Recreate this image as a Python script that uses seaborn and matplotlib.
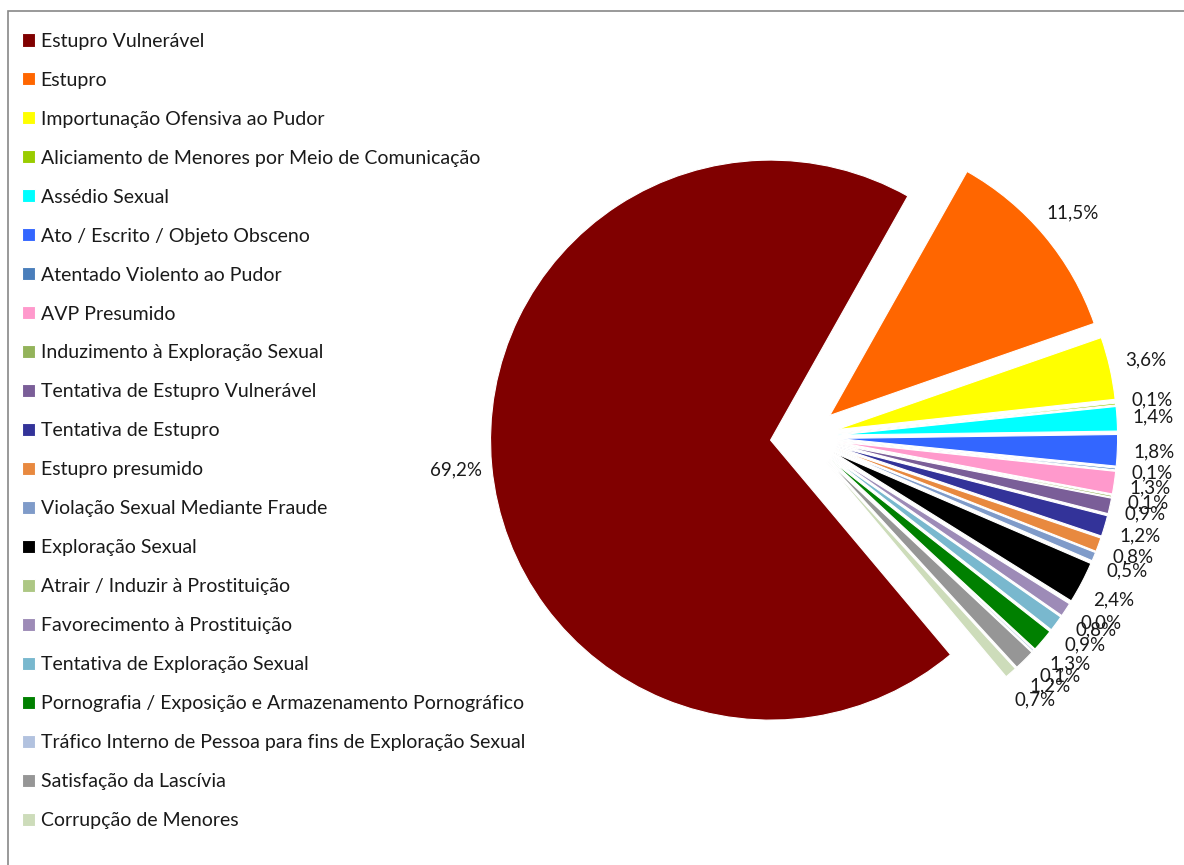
import matplotlib
matplotlib.use('Agg')
import matplotlib.pyplot as plt
import seaborn as sns
from matplotlib.patches import Rectangle

sns.set_theme(style='white')
plt.rcParams['font.family'] = ['Lato', 'DejaVu Sans']

# Dados
categorias = [
    'Estupro Vulnerável', 'Estupro', 'Importunação Ofensiva ao Pudor',
    'Aliciamento de Menores por Meio de Comunicação', 'Assédio Sexual',
    'Ato / Escrito / Objeto Obsceno', 'Atentado Violento ao Pudor', 'AVP Presumido',
    'Induzimento à Exploração Sexual', 'Tentativa de Estupro Vulnerável',
    'Tentativa de Estupro', 'Estupro presumido', 'Violação Sexual Mediante Fraude',
    'Exploração Sexual', 'Atrair / Induzir à Prostituição', 'Favorecimento à Prostituição',
    'Tentativa de Exploração Sexual', 'Pornografia / Exposição e Armazenamento Pornográfico',
    'Tráfico Interno de Pessoa para fins de Exploração Sexual', 'Satisfação da Lascívia',
    'Corrupção de Menores',
]
percentuais = [69.2, 11.5, 3.6, 0.1, 1.4, 1.8, 0.1, 1.3, 0.1, 0.9, 1.2,
               0.8, 0.5, 2.4, 0.0, 0.8, 0.9, 1.3, 0.1, 1.2, 0.7]
cores = ['#800000', '#FF6600', '#FFFF00', '#99CC00', '#00FFFF', '#3366FF', '#4A7EBB',
         '#FF99CC', '#93B35A', '#7A5E98', '#333399', '#E8893F', '#7F9BC9', '#000000',
         '#ADC784', '#9D8BB7', '#79B8CE', '#008000', '#B2C2DF', '#969696', '#CDDCBA']

W, H = 1184, 865
fig = plt.figure(figsize=(W / 100, H / 100), dpi=100)
ax = fig.add_axes([0, 0, 1, 1])

rotulos = iter(percentuais)
fmt = lambda p: f'{next(rotulos):.1f}%'.replace('.', ',')

wedges, texts, autotexts = ax.pie(
    percentuais, colors=cores, startangle=-50, counterclock=False,
    explode=[0.12] * len(percentuais), autopct=fmt, pctdistance=1.13,
    wedgeprops={'edgecolor': 'white', 'linewidth': 0.8},
    textprops={'fontsize': 13.5, 'color': '#1a1a1a'})

# escala: raio 1 = 280 px, centro em (804, 437)
r, cx, cy = 280, 804, 437
ax.set_xlim(-cx / r, (W - cx) / r)
ax.set_ylim(-(H - cy) / r, cy / r)
ax.set_aspect('auto')
ax.axis('off')

leg = fig.legend(wedges, categorias, loc='upper left', bbox_to_anchor=(12 / W, 1 - 23 / H),
                 frameon=False, fontsize=14, handlelength=0.67, handleheight=0.67,
                 handletextpad=0.3, labelspacing=1.13, borderpad=0)
for t in leg.get_texts():
    t.set_color('#1a1a1a')

fig.patches.append(Rectangle((8 / W, -0.1), 1.2, 1 - 11 / H + 0.1, transform=fig.transFigure,
                             fill=False, edgecolor='#888888', linewidth=1.2))

fig.savefig('out.png', dpi=100, facecolor='white')
